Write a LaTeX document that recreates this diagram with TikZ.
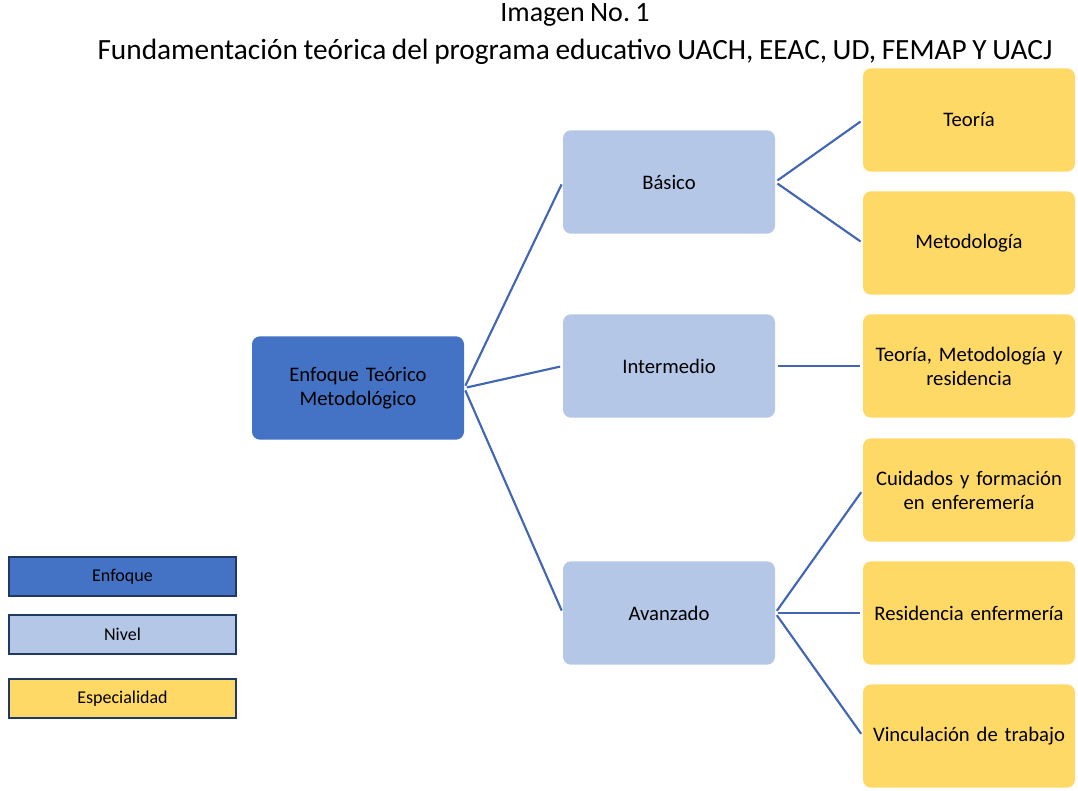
\documentclass[tikz,border=0pt]{standalone}
\usepackage{fontspec}
\setmainfont{Carlito}[WordSpace=0.85]
\frenchspacing
\usetikzlibrary{positioning}
\definecolor{enfoqueazul}{HTML}{4472C4}
\definecolor{nivelazul}{HTML}{B4C7E7}
\definecolor{especamarillo}{HTML}{FFD966}
\definecolor{lineaazul}{HTML}{4267B2}
\definecolor{bordeleyenda}{HTML}{1F3864}
\tikzset{
	%Define style for boxes
	caja/.style={
		rectangle,
		rounded corners=6pt,
		inner sep=2pt,
		minimum width=159pt,
		minimum height=77.5pt,
		text width=155pt,
		align=center,
		font=\fontsize{15.5}{18}\selectfont},
	enfoque/.style={caja, fill=enfoqueazul},
	nivel/.style={caja, fill=nivelazul},
	especialidad/.style={caja, fill=especamarillo},
	% Define style for legend boxes
	leyenda/.style={
		rectangle,
		draw=bordeleyenda, line width=1.5pt,
		minimum width=170pt,
		minimum height=29pt,
		font=\fontsize{13.5}{16}\selectfont},
	% Define line style
	rama/.style={
		draw=lineaazul,
		line width=1.6pt,
		shorten <=2pt,
		shorten >=2pt,}
}
\begin{document}
\begin{tikzpicture}[x=0.75pt, y=-0.75pt]
		\useasboundingbox (0,0) rectangle (1078,790);
		%titles
		\node[font=\fontsize{21}{24}\selectfont] (titulo) at (575,15) {Imagen No. 1};
		\node[font=\fontsize{22}{24}\selectfont] (subtitulo) at (575,52)
		{Fundamentación teórica del programa educativo UACH, EEAC, UD, FEMAP Y UACJ};
		%nodes
		\node[enfoque] (raiz) at (358,388) {Enfoque Teórico\\Metodológico};
		\node[nivel] (basico) at (669,182) {Básico};
		\node[nivel] (intermedio) at (669,366) {Intermedio};
		\node[nivel] (avanzado) at (669,613) {Avanzado};
		\node[especialidad] (teoria) at (969,120) {Teoría};
		\node[especialidad] (metodologia) at (969,243) {Metodología};
		\node[especialidad] (residencia) at (969,366) {Teoría, Metodología y\\residencia};
		\node[especialidad] (cuidados) at (969,490) {Cuidados y formación\\en enferemería};
		\node[especialidad] (resenf) at (969,613) {Residencia enfermería};
		\node[especialidad] (vinculacion) at (969,736) {Vinculación de trabajo};
		% legend
		\node[leyenda, fill=enfoqueazul] (leyenfoque) at (122.5,576.5) {Enfoque};
		\node[leyenda, fill=nivelazul] (leynivel) at (122.5,634.5) {Nivel};
		\node[leyenda, fill=especamarillo] (leyespec) at (122.5,698.5) {Especialidad};
		% branches
		\draw[rama] (raiz.east) -- (basico.west);
		\draw[rama] (raiz.east) -- (intermedio.west);
		\draw[rama] (raiz.east) -- (avanzado.west);
		\draw[rama] (basico.east) -- (teoria.west);
		\draw[rama] (basico.east) -- (metodologia.west);
		\draw[rama] (intermedio.east) -- (residencia.west);
		\draw[rama] (avanzado.east) -- (cuidados.west);
		\draw[rama] (avanzado.east) -- (resenf.west);
		\draw[rama] (avanzado.east) -- (vinculacion.west);
\end{tikzpicture}
\end{document}
